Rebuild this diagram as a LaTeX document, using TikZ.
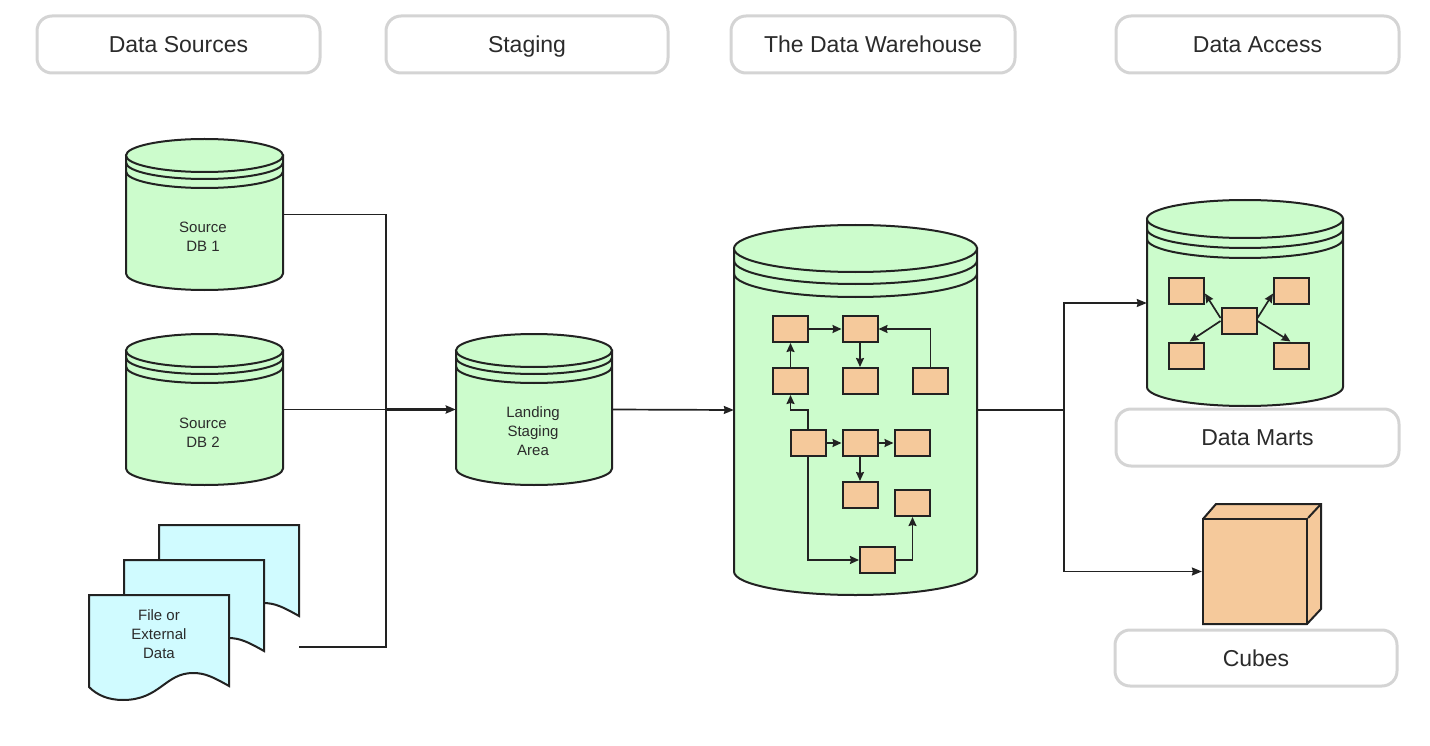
\documentclass[tikz,border=0pt]{standalone}
\usepackage{fontspec}
\setmainfont{Liberation Sans}
\usetikzlibrary{arrows.meta,calc}
\definecolor{dbgreen}{HTML}{CCFCCC}
\definecolor{boxorange}{HTML}{F5C99B}
\definecolor{docblue}{HTML}{D0FBFF}
\definecolor{pillgray}{HTML}{D4D4D4}
\definecolor{inktext}{HTML}{2B2B2B}
\definecolor{ink}{HTML}{222222}
\tikzset{
  x=1pt,y=-1pt,
  pill/.style={draw=pillgray,line width=3pt,rounded corners=15pt,fill=white,inner sep=0pt,text=inktext,text height=16pt,text depth=0pt,font=\fontsize{23}{27}\selectfont},
  smallbox/.style={draw=ink,line width=2pt,fill=boxorange,inner sep=0pt,minimum width=35pt,minimum height=26pt},
  shapeline/.style={draw=ink,line width=2pt},
  cyllabel/.style={text=inktext,align=center,font=\fontsize{15}{19}\selectfont,inner sep=0pt},
  link/.style={draw=ink,line width=1.7pt,-{Stealth[length=10pt,width=8pt,inset=1pt]}},
  plainlink/.style={draw=ink,line width=1.7pt},
  innerlink/.style={draw=ink,line width=1.7pt,-{Stealth[length=9pt,width=8pt,inset=1pt]}},
}
% name, left, right, top, bottom, ry, first gap, second gap
\newcommand{\dbcyl}[8]{%
  \pgfmathsetmacro{\cylrx}{(#3-#2)/2}%
  \pgfmathsetmacro{\cylcx}{(#3+#2)/2}%
  \pgfmathsetmacro{\cylcy}{#4+#6}%
  \pgfmathsetmacro{\cylby}{#5-#6}%
  \pgfmathsetmacro{\cylw}{#3-#2}%
  \pgfmathsetmacro{\cylh}{#5-#4}%
  \path[shapeline,fill=dbgreen] (#2,\cylcy) -- (#2,\cylby) arc[start angle=180,end angle=360,x radius=\cylrx pt,y radius=#6 pt] -- (#3,\cylcy) -- cycle;
  \path[shapeline,fill=dbgreen] (\cylcx,\cylcy) ellipse[x radius=\cylrx pt,y radius=#6 pt];
  \draw[shapeline] (#2,\cylcy+#7) arc[start angle=180,end angle=360,x radius=\cylrx pt,y radius=#6 pt];
  \draw[shapeline] (#2,\cylcy+#8) arc[start angle=180,end angle=360,x radius=\cylrx pt,y radius=#6 pt];
  \node[inner sep=0pt,minimum width=\cylw pt,minimum height=\cylh pt] (#1) at (\cylcx,{(#4+#5)/2}) {};%
}
\newcommand{\docsheet}[2]{%
  \path[shapeline,fill=docblue,shift={(#1pt,#2pt)}] (89,595) -- (229,595) -- (229,686) .. controls (213,677) and (205,673) .. (193,673) .. controls (165,673) and (160,700) .. (123,700) .. controls (108,700) and (97,695) .. (89,687) -- cycle;
}
\begin{document}
\begin{tikzpicture}
\useasboundingbox (0,0) rectangle (1430,746);
% header pills
\node[pill,minimum width=283pt,minimum height=57pt] (hsrc) at (178.5,44.5) {Data Sources};
\node[pill,minimum width=282pt,minimum height=57pt] (hstg) at (527,44.5) {Staging};
\node[pill,minimum width=284pt,minimum height=57pt] (hdw) at (873,44.5) {The Data Warehouse};
\node[pill,minimum width=283pt,minimum height=57pt] (hacc) at (1257.5,44.5) {Data Access};
\node[pill,minimum width=283pt,minimum height=57pt] (hmart) at (1257.5,437.5) {Data Marts};
\node[pill,minimum width=282pt,minimum height=56pt] (hcube) at (1256,658) {Cubes};
% cylinders
\dbcyl{dbone}{126}{283}{139}{290}{16.5}{7}{16}
\dbcyl{dbtwo}{126}{283}{334}{485}{16.5}{7}{16}
\dbcyl{stage}{456}{612}{334}{485}{16.5}{7}{16}
\dbcyl{dw}{734}{977}{225}{595}{23.5}{12}{25}
\dbcyl{mart}{1147}{1343}{200}{406}{19}{10}{20}
\node[cyllabel] (lone) at (203,236.5) {Source\\DB 1};
\node[cyllabel] (ltwo) at (203,432.5) {Source\\DB 2};
\node[cyllabel] (lstage) at (533,431) {Landing\\Staging\\Area};
% file stack
\docsheet{70}{70}
\docsheet{35}{35}
\docsheet{0}{0}
\node[cyllabel] (lfile) at (159,634) {File or\\External\\Data};
\coordinate (fileout) at (299,647);
\coordinate (joinin) at (386,409.5);
\coordinate (joinout) at (1064,410);
% cube
\path[shapeline,fill=boxorange] (1203,519) -- (1216,504) -- (1321,504) -- (1321,609) -- (1307,624) -- (1203,624) -- cycle;
\node[draw=ink,line width=2.2pt,fill=boxorange,inner sep=0pt,minimum width=104pt,minimum height=105pt] (cube) at (1255,571.5) {};
\draw[shapeline] (cube.north east) -- (1321,504);
% warehouse boxes
\node[smallbox] (wa) at (790.5,329) {};
\node[smallbox] (wb) at (860,329) {};
\node[smallbox] (wc) at (790.5,381) {};
\node[smallbox] (wd) at (860,381) {};
\node[smallbox] (we) at (930.5,381) {};
\node[smallbox] (wf) at (808,443) {};
\node[smallbox] (wg) at (860,443) {};
\node[smallbox] (wh) at (912,443) {};
\node[smallbox] (wi) at (860,495) {};
\node[smallbox] (wj) at (912.5,503) {};
\node[smallbox] (wk) at (877.5,560) {};
\draw[innerlink] (wa) -- (wb);
\draw[innerlink] (wb) -- (wd);
\draw[innerlink] (we.north) |- (wb.east);
\draw[innerlink] (wc) -- (wa);
\draw[innerlink] (wf.north) -- ++(0,-19) -| (wc.south);
\draw[innerlink] (wf) -- (wg);
\draw[innerlink] (wg) -- (wh);
\draw[innerlink] (wg) -- (wi);
\draw[innerlink] (wf.south) |- (wk.west);
\draw[innerlink] (wk.east) -| (wj.south);
% mart boxes
\node[smallbox] (ma) at (1186.5,290.5) {};
\node[smallbox] (mb) at (1291.5,290.5) {};
\node[smallbox] (mc) at (1239,321) {};
\node[smallbox] (md) at (1186.5,355.5) {};
\node[smallbox] (me) at (1291.5,355.5) {};
\draw[innerlink] ([yshift=3pt]mc.west) -- ([yshift=11pt]ma.south east);
\draw[innerlink] ([yshift=3pt]mc.east) -- ([yshift=11pt]mb.south west);
\draw[innerlink] (mc.west) -- ([xshift=3pt]md.north);
\draw[innerlink] (mc.east) -- ([xshift=-1pt]me.north);
% main connectors
\draw[plainlink] (dbone.east) -| (joinin);
\draw[plainlink] (fileout) -| (joinin);
\draw[plainlink] (dbtwo.east) -- (joinin);
\draw[link,line width=2.4pt] (joinin) -- (stage.west);
\draw[link] (stage.east) -- (dw.west);
\draw[plainlink,line width=2.6pt] (dw.east) -- (joinout);
\draw[link] (joinout) |- (mart.west);
\draw[link] (joinout) |- (cube.west);
\end{tikzpicture}
\end{document}
